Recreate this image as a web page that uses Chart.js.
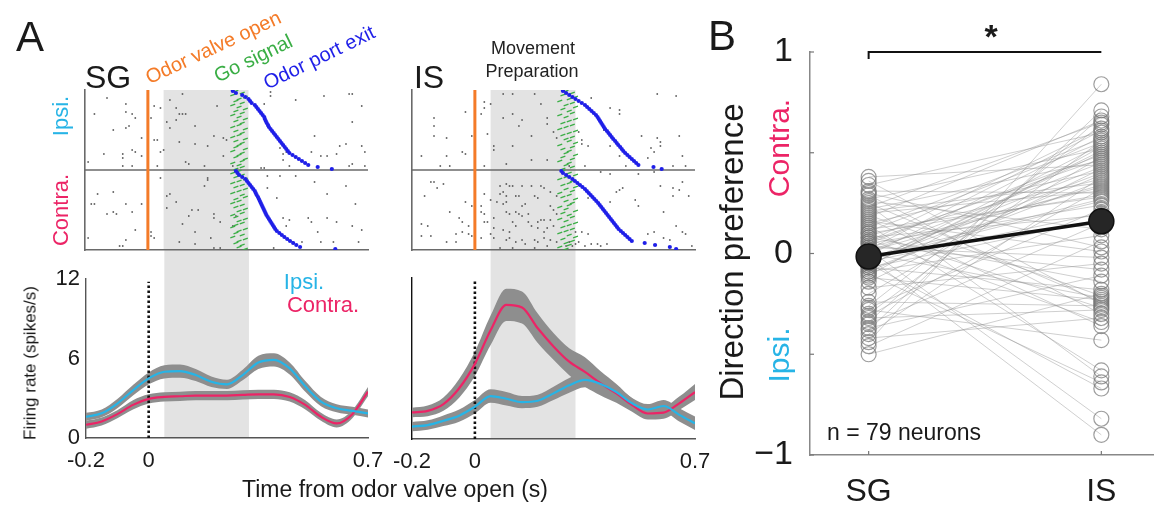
<!DOCTYPE html>
<html>
<head>
<meta charset="utf-8">
<script src="https://cdn.jsdelivr.net/npm/chart.js@4.4.0/dist/chart.umd.min.js"></script>
<style>
body { margin: 0; background: #fff; }
#wrap { position: relative; width: 1167px; height: 508px; overflow: hidden; font-family: "Liberation Sans", Arial, sans-serif; }
#wrap canvas { position: absolute; left: 0; top: 0; }
.lbl { position: absolute; white-space: nowrap; line-height: 1; transform-origin: center center; }
</style>
</head>
<body>
<div id="wrap">
  <canvas id="sgRate" width="1167" height="508"></canvas>
  <canvas id="isRate" width="1167" height="508"></canvas>
  <canvas id="sgRaster" width="1167" height="508"></canvas>
  <canvas id="isRaster" width="1167" height="508"></canvas>
  <canvas id="pref" width="1167" height="508"></canvas>
</div>
<script>
// ---- data ----
var tGrid = [-0.2, -0.15, -0.1, -0.05, 0, 0.05, 0.1, 0.15, 0.2, 0.25, 0.3, 0.35, 0.4, 0.45, 0.5, 0.55, 0.6, 0.65, 0.7];

var sgIpsiRate   = [1.6, 1.86, 2.6, 3.6, 4.5, 5.0, 5.05, 4.75, 4.25, 4.05, 4.75, 5.7, 5.9, 5.25, 3.9, 2.75, 2.25, 2.05, 1.85];
var sgIpsiSem    = [0.3, 0.3, 0.35, 0.4, 0.45, 0.5, 0.5, 0.45, 0.4, 0.35, 0.4, 0.5, 0.5, 0.45, 0.4, 0.35, 0.3, 0.3, 0.3];
var sgContraRate = [1.0, 1.25, 1.8, 2.5, 2.95, 3.1, 3.15, 3.2, 3.2, 3.2, 3.25, 3.3, 3.3, 3.1, 2.5, 1.6, 1.1, 1.8, 3.5];
var sgContraSem  = [0.3, 0.3, 0.3, 0.35, 0.35, 0.35, 0.35, 0.35, 0.35, 0.35, 0.35, 0.35, 0.35, 0.35, 0.35, 0.3, 0.3, 0.3, 0.35];

var isIpsiRate   = [0.92, 1.04, 1.36, 1.74, 2.4, 3.2, 3.0, 2.75, 2.85, 3.4, 4.0, 4.4, 4.1, 3.5, 2.66, 2.2, 2.46, 1.8, 1.17];
var isIpsiSem    = [0.35, 0.35, 0.4, 0.45, 0.5, 0.5, 0.5, 0.45, 0.45, 0.5, 0.55, 0.55, 0.5, 0.45, 0.4, 0.4, 0.45, 0.5, 0.5];
var isContraRate = [1.98, 2.1, 2.6, 3.78, 5.6, 8.1, 10.0, 9.8, 8.25, 6.9, 5.76, 5.0, 4.15, 3.4, 2.53, 1.9, 1.96, 2.66, 3.5];
var isContraSem  = [0.35, 0.4, 0.5, 0.7, 0.9, 1.1, 1.2, 1.2, 1.1, 1.0, 1.0, 1.1, 0.9, 0.7, 0.5, 0.45, 0.45, 0.5, 0.6];

var prepWindow = [0.05, 0.32];   // "Movement Preparation" epoch (s)

// raster spikes: [time (s), trial row]; rows 0-40 ipsi, 40-80 contra
var sgIpsiSpikes = [[-0.13,4],[-0.17,12],[-0.07,7],[-0.07,11],[-0.05,12],[-0.04,14],[-0.06,18],[-0.07,19],[-0.11,20],[-0.02,24],[-0.14,32],[-0.08,32],[-0.08,34],[-0.05,30],[-0.04,31],[-0.02,33],[-0.08,38],[-0.05,38],[-0.19,36],[0.01,14],[0.02,8],[0.04,9],[0.02,25],[0.03,25],[0.05,30],[0.04,31],[0.03,38],[0.11,2],[0.07,5],[0.09,9],[0.10,12],[0.11,12],[0.12,12],[0.09,15],[0.06,16],[0.07,19],[0.15,18],[0.10,26],[0.15,27],[0.12,36],[0.13,37],[0.18,38],[0.19,28],[0.21,23],[0.22,8],[0.24,24],[0.25,25],[0.24,33],[0.27,38],[0.39,3],[0.39,1],[0.37,7],[0.38,18],[0.43,32],[0.43,35],[0.45,38],[0.47,5],[0.53,23],[0.52,31],[0.55,33],[0.57,33],[0.60,32],[0.61,28],[0.63,27],[0.64,38],[0.65,37],[0.68,28],[0.69,31],[0.65,2],[0.64,2],[0.56,3],[0.68,8],[0.65,16],[0.69,38],[0.36,39],[0.37,39],[0.42,29],[0.44,31]];
var sgContraSpikes = [[-0.16,52],[-0.11,51],[-0.18,57],[-0.17,57],[-0.13,62],[-0.11,61],[-0.10,62],[-0.07,57],[-0.04,70],[-0.05,61],[-0.02,57],[-0.19,74],[-0.09,78],[-0.08,78],[-0.07,75],[0.01,71],[0.01,73],[0.02,74],[0.04,44],[0.06,53],[0.07,52],[0.09,56],[0.06,59],[0.19,44],[0.19,45],[0.18,48],[0.14,60],[0.16,60],[0.11,67],[0.13,63],[0.15,71],[0.10,76],[0.15,77],[0.21,62],[0.21,64],[0.23,66],[0.20,74],[0.21,79],[0.23,79],[0.28,63],[0.27,68],[0.38,43],[0.42,43],[0.47,43],[0.53,46],[0.57,52],[0.63,48],[0.66,57],[0.38,49],[0.41,54],[0.43,64],[0.45,65],[0.44,68],[0.51,64],[0.52,66],[0.54,71],[0.55,76],[0.59,76],[0.65,68],[0.68,70],[0.57,64],[0.60,66],[0.49,76],[0.40,79],[0.46,76],[0.67,76]];
var isIpsiSpikes = [[0.03,6],[-0.03,11],[-0.13,14],[-0.13,18],[-0.09,24],[-0.13,23],[-0.17,33],[-0.09,33],[-0.04,31],[-0.03,32],[-0.11,38],[-0.08,38],[-0.01,23],[0.03,9],[0.02,12],[0.04,22],[0.03,38],[0.09,2],[0.12,2],[0.19,2],[0.05,7],[0.09,14],[0.12,12],[0.14,18],[0.15,15],[0.06,28],[0.06,30],[0.12,28],[0.18,23],[0.10,37],[0.18,35],[0.23,35],[0.23,14],[0.23,17],[0.25,21],[0.26,24],[0.21,7],[0.30,38],[0.34,25],[0.34,27],[0.36,28],[0.33,21],[0.37,4],[0.35,38],[0.43,9],[0.46,10],[0.46,12],[0.41,20],[0.43,28],[0.46,33],[0.48,38],[0.53,23],[0.56,29],[0.57,31],[0.58,24],[0.59,26],[0.59,28],[0.65,23],[0.66,33],[0.64,3],[0.58,2],[0.63,38],[0.67,38],[0.55,34]];
var isContraSpikes = [[-0.14,46],[-0.13,46],[-0.10,47],[-0.12,49],[-0.16,53],[-0.17,67],[-0.15,68],[-0.17,73],[-0.14,73],[-0.09,76],[-0.06,76],[-0.08,61],[-0.05,64],[-0.04,66],[-0.06,72],[-0.04,71],[-0.03,56],[-0.02,72],[-0.01,73],[-0.02,68],[-0.01,58],[0.02,58],[0.03,52],[0.02,61],[0.03,62],[0.03,66],[0.04,66],[0.02,74],[0.06,64],[0.08,48],[0.10,47],[0.11,48],[0.12,48],[0.08,52],[0.09,51],[0.10,53],[0.05,55],[0.07,56],[0.09,57],[0.10,56],[0.13,53],[0.14,53],[0.15,48],[0.18,48],[0.15,58],[0.16,57],[0.19,53],[0.20,54],[0.21,48],[0.22,49],[0.10,61],[0.11,62],[0.13,61],[0.14,62],[0.15,63],[0.17,62],[0.06,69],[0.09,70],[0.11,71],[0.12,66],[0.13,68],[0.17,66],[0.18,68],[0.20,69],[0.22,71],[0.23,69],[0.20,66],[0.21,65],[0.22,65],[0.24,65],[0.05,72],[0.06,74],[0.10,75],[0.11,74],[0.13,76],[0.15,75],[0.19,75],[0.20,76],[0.22,74],[0.24,75],[0.26,76],[0.08,79],[0.12,79],[0.16,77],[0.19,79],[0.23,78],[0.24,58],[0.25,60],[0.26,62],[0.24,51],[0.26,53],[0.25,68],[0.29,78],[0.30,76],[0.31,78],[0.32,77],[0.33,76],[0.35,78],[0.37,77],[0.39,77],[0.40,78],[0.42,77],[0.32,71],[0.34,71],[0.36,72],[0.36,54],[0.43,56],[0.45,51],[0.46,50],[0.47,49],[0.40,41],[0.43,42],[0.52,42],[0.57,41],[0.51,55],[0.52,58],[0.59,48],[0.63,49],[0.65,50],[0.63,53],[0.68,53],[0.66,46],[0.60,61],[0.55,72],[0.57,71],[0.64,68],[0.66,71],[0.67,72],[0.60,74],[0.62,75],[0.69,78]];

// go signal and odor port exit per trial (s), 40 trials per direction
var sgIpsiGo   = [0.28,0.30,0.27,0.31,0.29,0.28,0.30,0.27,0.29,0.31,0.28,0.30,0.27,0.29,0.31,0.28,0.30,0.29,0.27,0.31,0.28,0.30,0.29,0.27,0.31,0.28,0.30,0.29,0.28,0.31,0.27,0.30,0.29,0.28,0.31,0.30,0.27,0.29,0.30,0.28];
var sgContraGo = [0.29,0.27,0.30,0.28,0.31,0.29,0.27,0.30,0.28,0.31,0.29,0.27,0.30,0.31,0.28,0.29,0.27,0.30,0.28,0.31,0.29,0.30,0.27,0.28,0.31,0.29,0.30,0.28,0.27,0.31,0.29,0.28,0.30,0.27,0.31,0.29,0.28,0.30,0.29,0.31];
var isIpsiGo   = [0.29,0.31,0.28,0.32,0.30,0.27,0.31,0.29,0.32,0.28,0.30,0.31,0.27,0.29,0.32,0.30,0.28,0.31,0.29,0.27,0.32,0.30,0.28,0.31,0.29,0.30,0.32,0.27,0.31,0.28,0.30,0.29,0.32,0.28,0.31,0.27,0.30,0.29,0.31,0.28];
var isContraGo = [0.28,0.30,0.32,0.29,0.27,0.31,0.30,0.28,0.32,0.29,0.31,0.27,0.30,0.28,0.32,0.29,0.31,0.30,0.27,0.29,0.32,0.28,0.30,0.31,0.27,0.29,0.32,0.30,0.28,0.31,0.29,0.27,0.30,0.32,0.28,0.31,0.29,0.30,0.27,0.29];

var sgIpsiExit   = [0.27,0.28,0.30,0.31,0.32,0.325,0.33,0.34,0.345,0.35,0.355,0.36,0.365,0.37,0.372,0.375,0.378,0.382,0.385,0.39,0.395,0.40,0.405,0.41,0.415,0.42,0.425,0.43,0.435,0.44,0.445,0.45,0.46,0.47,0.48,0.49,0.50,0.51,0.54,0.585];
var sgContraExit = [0.28,0.285,0.29,0.30,0.31,0.315,0.32,0.325,0.33,0.335,0.34,0.343,0.346,0.35,0.353,0.356,0.359,0.362,0.365,0.368,0.371,0.374,0.377,0.381,0.385,0.389,0.393,0.397,0.401,0.405,0.41,0.418,0.426,0.434,0.443,0.452,0.462,0.472,0.484,0.596];
var isIpsiExit   = [0.28,0.29,0.30,0.31,0.32,0.33,0.34,0.35,0.357,0.364,0.371,0.378,0.385,0.39,0.394,0.398,0.402,0.406,0.41,0.414,0.42,0.425,0.43,0.435,0.44,0.446,0.451,0.456,0.462,0.467,0.472,0.478,0.485,0.492,0.499,0.506,0.513,0.52,0.568,0.594];
var isContraExit = [0.275,0.28,0.29,0.30,0.31,0.318,0.326,0.334,0.342,0.35,0.356,0.362,0.368,0.374,0.38,0.386,0.392,0.397,0.402,0.407,0.412,0.417,0.422,0.427,0.432,0.437,0.442,0.447,0.452,0.457,0.464,0.471,0.478,0.485,0.492,0.499,0.54,0.573,0.62,0.64];

// panel B: direction preference of each neuron (n = 79), paired SG -> IS
var groupLabels = ['SG', 'IS'];
var dirSG = [0.38,0.36,0.34,0.31,0.29,0.27,0.26,0.24,0.22,0.21,0.19,0.18,0.16,0.15,0.14,0.12,0.11,0.10,0.09,0.08,0.07,0.06,0.05,0.04,0.03,0.02,0.01,0.00,-0.01,-0.02,-0.03,-0.04,-0.05,-0.06,-0.07,-0.08,-0.09,-0.10,-0.11,-0.12,-0.14,-0.17,-0.20,-0.24,-0.26,-0.27,-0.28,-0.30,-0.31,-0.32,-0.34,-0.35,-0.37,-0.38,-0.40,-0.42,-0.44,-0.46,-0.50,0.30,0.25,0.23,0.20,0.17,0.13,0.10,0.08,0.06,0.05,0.03,0.02,0.01,-0.02,-0.03,-0.04,-0.05,-0.06,-0.07,-0.09];
var dirIS = [0.44,-0.25,0.60,0.30,-0.30,0.52,0.12,-0.61,0.46,0.35,-0.21,0.66,0.01,0.41,-0.58,0.28,0.55,-0.27,0.37,0.19,-0.34,0.62,0.49,-0.08,0.33,-0.82,0.45,-0.22,0.58,-0.90,0.26,0.40,-0.67,0.50,-0.18,0.36,0.09,-0.64,0.53,-0.23,0.42,-0.05,0.48,-0.26,0.64,0.22,-0.43,0.56,0.32,-0.28,0.68,0.15,-0.11,0.71,0.38,-0.32,0.84,0.06,-0.20,0.03,-0.24,0.65,0.31,-0.36,0.57,0.29,-0.14,0.47,0.24,-0.02,0.61,0.34,0.27,0.43,0.20,0.54,0.51,0.17,0.39];

var rateTicks = [0, 6, 12];
var timeTicks = [-0.2, 0, 0.7];
var prefTicks = [-1, -0.5, 0, 0.5, 1];

// ---- styling ----
var FONT = '"Liberation Sans", Arial, sans-serif';
var CYAN = '#27b4e6';
var MAGENTA = '#ec2466';
var ORANGE = '#f47b28';
var GREEN = '#3aae45';
var BLUE = '#1f1fe8';
var BAND = '#8e8e8e';
var W = 1167, H = 508;

Chart.defaults.font.family = FONT;
Chart.defaults.animation = false;
Chart.defaults.devicePixelRatio = 1;

function fixSize(px) {
  return function(scale) {
    if (scale.isHorizontal()) scale.height = px; else scale.width = px;
  };
}
function setTicks(vals) {
  return function(scale) { scale.ticks = vals.map(function(v) { return { value: v }; }); };
}
function pad(area, yW, xH) {
  return { left: area[0] - yW, top: area[1], right: W - area[2], bottom: H - area[3] - xH };
}
function mean(a) { return a.reduce(function(s, v) { return s + v; }, 0) / a.length; }

// light grey epoch shading, drawn under everything
var prepShade = {
  id: 'prepShade',
  beforeDraw: function(chart, args, opts) {
    if (!opts.window) return;
    var x = chart.scales.x, a = chart.chartArea, ctx = chart.ctx;
    var x0 = x.getPixelForValue(opts.window[0]), x1 = x.getPixelForValue(opts.window[1]);
    var top = a.top - (opts.extendUp || 0);
    ctx.save();
    ctx.fillStyle = '#e3e3e3';
    ctx.fillRect(x0, top, x1 - x0, a.bottom - top);
    ctx.restore();
  }
};

// short tick marks pointing into the plot, MATLAB style
var inTicks = {
  id: 'inTicks',
  afterDraw: function(chart, args, opts) {
    if (!opts.len) return;
    var ctx = chart.ctx, a = chart.chartArea;
    ctx.save();
    ctx.strokeStyle = opts.color || '#666';
    ctx.lineWidth = 1.2;
    ['x', 'y'].forEach(function(id) {
      var s = chart.scales[id];
      s.ticks.forEach(function(t) {
        var p = s.getPixelForValue(t.value);
        ctx.beginPath();
        if (id === 'x') { ctx.moveTo(p, a.bottom); ctx.lineTo(p, a.bottom - opts.len); }
        else { ctx.moveTo(a.left, p); ctx.lineTo(a.left + opts.len, p); }
        ctx.stroke();
      });
    });
    ctx.restore();
  }
};
Chart.register(prepShade, inTicks);

// ---- firing-rate panels ----
function bandSets(rate, sem, color) {
  var lo = tGrid.map(function(t, i) { return { x: t, y: rate[i] - sem[i] }; });
  var hi = tGrid.map(function(t, i) { return { x: t, y: rate[i] + sem[i] }; });
  var mid = tGrid.map(function(t, i) { return { x: t, y: rate[i] }; });
  return {
    band: [
      { data: lo, borderWidth: 0, pointRadius: 0, fill: false, cubicInterpolationMode: 'monotone', order: 2 },
      { data: hi, borderWidth: 0, pointRadius: 0, fill: '-1', backgroundColor: BAND, cubicInterpolationMode: 'monotone', order: 2 }
    ],
    line: { data: mid, borderColor: color, borderWidth: 2.2, pointRadius: 0, fill: false, cubicInterpolationMode: 'monotone', order: 0 }
  };
}

function rateChart(id, area, ipsi, ipsiSem, contra, contraSem, showY, yColor) {
  var a = bandSets(contra, contraSem, MAGENTA);
  var b = bandSets(ipsi, ipsiSem, CYAN);
  var onset = { data: [{ x: 0, y: 0 }, { x: 0, y: 11.8 }], borderColor: '#111', borderWidth: 2.6,
                borderDash: [2.4, 2.6], pointRadius: 0, fill: false, order: 1 };
  new Chart(document.getElementById(id), {
    type: 'line',
    data: { datasets: a.band.concat(b.band, [onset, b.line, a.line]) },
    options: {
      responsive: false,
      layout: { padding: pad(area, 40, 42) },
      plugins: { legend: { display: false }, tooltip: { enabled: false },
                 prepShade: { window: prepWindow, extendUp: area[1] - 250 } },
      scales: {
        x: {
          type: 'linear', min: -0.2, max: 0.7,
          afterFit: fixSize(42), afterBuildTicks: setTicks(timeTicks),
          grid: { display: false, drawTicks: false },
          border: { display: true, color: '#555', width: 1.4 },
          ticks: { color: '#1a1a1a', font: { size: 22 }, padding: 10, maxRotation: 0 }
        },
        y: {
          type: 'linear', min: 0, max: 12,
          afterFit: fixSize(40), afterBuildTicks: setTicks(rateTicks),
          grid: { display: false, drawTicks: false },
          border: { display: true, color: yColor, width: 1.4 },
          ticks: { display: showY, color: '#1a1a1a', font: { size: 22 }, padding: 6 }
        }
      }
    }
  });
}

rateChart('sgRate', [86, 279, 368, 438], sgIpsiRate, sgIpsiSem, sgContraRate, sgContraSem, true, '#555');
rateChart('isRate', [412, 278, 695, 439], isIpsiRate, isIpsiSem, isContraRate, isContraSem, false, '#111');

// ---- raster panels ----
function rasterChart(id, area, ipsiSpk, contraSpk, ipsiGo, contraGo, ipsiExit, contraExit) {
  var spikes = ipsiSpk.concat(contraSpk).map(function(s) { return { x: s[0], y: s[1] }; });
  function rows(vals, offset) { return vals.map(function(t, i) { return { x: t, y: offset + i + 0.5 }; }); }
  var go = rows(ipsiGo, 0).concat(rows(contraGo, 40));
  var exit = rows(ipsiExit, 0).concat(rows(contraExit, 40));
  new Chart(document.getElementById(id), {
    type: 'scatter',
    data: { datasets: [
      { data: exit, pointStyle: 'circle', pointRadius: 2.1, pointBackgroundColor: BLUE, pointBorderWidth: 0, order: 0 },
      { data: go, pointStyle: 'line', pointRadius: 2.6, pointRotation: -20, pointBorderColor: GREEN, pointBorderWidth: 1.2, order: 1 },
      { data: spikes, pointStyle: 'rect', pointRadius: 1.1, pointBackgroundColor: '#4a4a4a', pointBorderWidth: 0, order: 2 },
      { data: [{ x: 0, y: 0 }, { x: 0, y: 80 }], showLine: true, borderColor: ORANGE, borderWidth: 3, pointRadius: 0, order: 3 },
      { data: [{ x: -0.2, y: 40 }, { x: 0.7, y: 40 }], showLine: true, borderColor: '#6a6a6a', borderWidth: 1.6, pointRadius: 0, order: 4 }
    ] },
    options: {
      responsive: false,
      layout: { padding: pad(area, 0, 0) },
      plugins: { legend: { display: false }, tooltip: { enabled: false }, prepShade: { window: prepWindow } },
      scales: {
        x: { type: 'linear', min: -0.2, max: 0.7, afterFit: fixSize(0), grid: { display: false, drawTicks: false },
             border: { display: true, color: '#6a6a6a', width: 1.6 }, ticks: { display: false } },
        y: { type: 'linear', min: 0, max: 80, reverse: true, afterFit: fixSize(0), grid: { display: false, drawTicks: false },
             border: { display: true, color: '#6a6a6a', width: 1.6 }, ticks: { display: false } }
      }
    }
  });
}

rasterChart('sgRaster', [85, 90, 368, 250], sgIpsiSpikes, sgContraSpikes, sgIpsiGo, sgContraGo, sgIpsiExit, sgContraExit);
rasterChart('isRaster', [412, 90, 695, 250], isIpsiSpikes, isContraSpikes, isIpsiGo, isContraGo, isIpsiExit, isContraExit);

// ---- panel B ----
var pairSets = dirSG.map(function(v, i) {
  return { data: [{ x: 1, y: v }, { x: 2, y: dirIS[i] }], borderColor: 'rgba(140,140,140,0.42)', borderWidth: 1,
           pointRadius: 7.5, pointBorderColor: 'rgba(115,115,115,0.7)', pointBackgroundColor: 'rgba(255,255,255,0)',
           pointBorderWidth: 1.2, fill: false, order: 2 };
});
var meanSet = { data: [{ x: 1, y: mean(dirSG) }, { x: 2, y: mean(dirIS) }], borderColor: '#111', borderWidth: 3.5,
                pointRadius: 12.5, pointBackgroundColor: '#262626', pointBorderColor: '#111', pointBorderWidth: 1.5,
                fill: false, order: 0 };
var bracket = { data: [{ x: 1, y: 0.965 }, { x: 1, y: 1 }, { x: 2, y: 1 }], borderColor: '#111', borderWidth: 2,
                pointRadius: 0, fill: false, clip: false, order: 1 };

new Chart(document.getElementById('pref'), {
  type: 'line',
  data: { datasets: pairSets.concat([meanSet, bracket]) },
  options: {
    responsive: false,
    layout: { padding: pad([810, 52, 1167, 455], 60, 50) },
    plugins: { legend: { display: false }, tooltip: { enabled: false }, inTicks: { len: 4, color: '#777' } },
    scales: {
      x: {
        type: 'linear', min: 0.748, max: 2.222,
        afterFit: fixSize(50), afterBuildTicks: setTicks([1, 2]),
        grid: { display: false, drawTicks: false },
        border: { display: true, color: '#888', width: 1.5 },
        ticks: { color: '#1a1a1a', font: { size: 32 }, padding: 18, maxRotation: 0,
                 callback: function(v) { return groupLabels[v - 1]; } }
      },
      y: {
        type: 'linear', min: -1, max: 1,
        afterFit: fixSize(60), afterBuildTicks: setTicks(prefTicks),
        grid: { display: false, drawTicks: false },
        border: { display: true, color: '#888', width: 1.5 },
        ticks: { color: '#1a1a1a', font: { size: 34 }, padding: 17,
                 callback: function(v) { return Number.isInteger(v) ? (v < 0 ? '\u2212' + Math.abs(v) : String(v)) : ''; } }
      }
    }
  }
});

// ---- text ----
var texts = [
  { t: 'A', x: 30, y: 37, s: 42 },
  { t: 'SG', x: 108, y: 77, s: 32 },
  { t: 'IS', x: 429, y: 77, s: 32 },
  { t: 'Odor valve open', x: 213, y: 47, s: 20, c: ORANGE, r: -25 },
  { t: 'Go signal', x: 253, y: 58, s: 20, c: GREEN, r: -26 },
  { t: 'Odor port exit', x: 319, y: 57, s: 20, c: BLUE, r: -26 },
  { t: 'Movement', x: 533, y: 48, s: 18, c: '#222' },
  { t: 'Preparation', x: 532, y: 71, s: 18, c: '#222' },
  { t: 'Ipsi.', x: 61, y: 116, s: 22, c: CYAN, r: -90 },
  { t: 'Contra.', x: 61, y: 210, s: 22, c: MAGENTA, r: -90 },
  { t: 'Ipsi.', x: 304, y: 282, s: 22, c: CYAN },
  { t: 'Contra.', x: 323, y: 305, s: 22, c: MAGENTA },
  { t: 'Firing rate (spikes/s)', x: 30, y: 363, s: 17, r: -90 },
  { t: 'Time from odor valve open (s)', x: 395, y: 489, s: 23 },
  { t: 'B', x: 722, y: 36, s: 42 },
  { t: '*', x: 991, y: 36, s: 34, w: 'bold' },
  { t: 'Direction preference', x: 731, y: 252, s: 33, r: -90 },
  { t: 'Contra.', x: 779, y: 148, s: 30, c: MAGENTA, r: -90 },
  { t: 'Ipsi.', x: 779, y: 355, s: 30, c: CYAN, r: -90 },
  { t: 'n = 79 neurons', x: 904, y: 432, s: 23 }
];
var wrap = document.getElementById('wrap');
texts.forEach(function(d) {
  var el = document.createElement('div');
  el.className = 'lbl';
  el.textContent = d.t;
  el.style.left = d.x + 'px';
  el.style.top = d.y + 'px';
  el.style.fontSize = d.s + 'px';
  el.style.color = d.c || '#1a1a1a';
  if (d.w) el.style.fontWeight = d.w;
  el.style.transform = 'translate(-50%, -50%) rotate(' + (d.r || 0) + 'deg)';
  wrap.appendChild(el);
});
</script>
</body>
</html>
